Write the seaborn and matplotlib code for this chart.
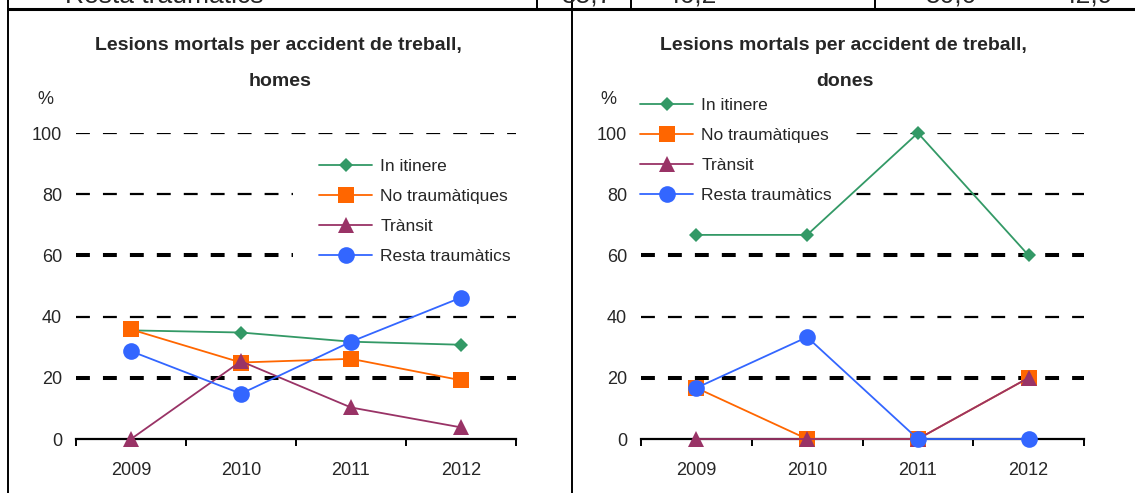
import numpy as np
import pandas as pd
import matplotlib
matplotlib.use('Agg')
import matplotlib.pyplot as plt
import seaborn as sns
from matplotlib import font_manager
from matplotlib.patches import Rectangle

# --- Dades ---
years = [2009, 2010, 2011, 2012]
series = ['In itinere', 'No traumàtiques', 'Trànsit', 'Resta traumàtics']

homes_itinere = [35.5, 34.8, 31.8, 30.8]
homes_no_traum = [35.8, 25.0, 26.2, 19.2]
homes_transit = [0.0, 25.4, 10.3, 3.8]
homes_resta = [28.7, 14.8, 31.8, 46.2]

dones_itinere = [66.7, 66.7, 100.0, 60.0]
dones_no_traum = [16.7, 0.0, 0.0, 20.0]
dones_transit = [0.0, 0.0, 0.0, 20.0]
dones_resta = [16.7, 33.3, 0.0, 0.0]

y_ticks = [0, 20, 40, 60, 80, 100]
table_label = 'Resta traumàtics'
table_values = ['55,7', '46,2', '50,0', '42,9']

COLORS = {'In itinere': '#339966', 'No traumàtiques': '#FF6600',
          'Trànsit': '#993366', 'Resta traumàtics': '#3366FF'}
MARKERS = {'In itinere': 'D', 'No traumàtiques': 's',
           'Trànsit': '^', 'Resta traumàtics': 'o'}
MSIZE = {'In itinere': 7, 'No traumàtiques': 11.5, 'Trànsit': 12, 'Resta traumàtics': 12}

sns.set_style('white')
names = {f.name for f in font_manager.fontManager.ttflist}
NARROW = 'Liberation Sans Narrow' in names
FONT = 'Liberation Sans Narrow' if NARROW else 'Liberation Sans'
plt.rcParams['font.family'] = [FONT, 'DejaVu Sans']
plt.rcParams['lines.scale_dashes'] = False
if NARROW:
    TICK_FS, LEG_FS, TITLE_FS = 14.5, 14.5, 17
else:
    TICK_FS, LEG_FS, TITLE_FS = 13, 12.5, 14

W, H = 1135, 493
fig = plt.figure(figsize=(W / 100, H / 100), dpi=100)

# capa de fons: taula retallada i vores
ov = fig.add_axes([0, 0, 1, 1], zorder=-1)
ov.set_xlim(0, W)
ov.set_ylim(H, 0)
ov.axis('off')
ov.plot([7, W], [9, 9], color='black', lw=2.2, solid_capstyle='butt')
for x in [537, 631, 875]:
    ov.plot([x, x], [0, 9], color='black', lw=1.4)
for x in [8, 572]:
    ov.plot([x, x], [0, H], color='black', lw=1.4)
ov.text(65, 3, table_label, fontsize=19, family='Liberation Sans', va='baseline')
for x, t in zip([613, 717, 977, 1113], table_values):
    ov.text(x, 3, t, fontsize=19, family='Liberation Sans', va='baseline', ha='right')


def draw_panel(ax, data, title, sub, title_x, pct_x, leg_xy, leg_box):
    for name, vals in zip(series, data):
        sns.lineplot(x=years, y=vals, ax=ax, color=COLORS[name], marker=MARKERS[name],
                     markersize=MSIZE[name], markeredgecolor=COLORS[name],
                     markeredgewidth=0, linewidth=1.3, label=name, clip_on=False, zorder=6)
    for v in y_ticks[1:]:
        lw = 2.9 if v in (20, 60) else 1.6
        ax.axhline(v, color='black', lw=lw, ls=(0, (10, 9.4)), zorder=1)
    ax.set_xlim(2008.5, 2012.5)
    ax.set_ylim(0, 100)
    ax.set_yticks(y_ticks)
    ax.set_xticks(years)
    ax.set_xticklabels([str(y) for y in years])
    ax.set_xticks([2008.5, 2009.5, 2010.5, 2011.5, 2012.5], minor=True)
    ax.tick_params(axis='y', length=0, pad=10, labelsize=TICK_FS)
    ax.tick_params(axis='x', which='major', length=0, pad=16.5, labelsize=TICK_FS)
    ax.tick_params(axis='x', which='minor', length=5, width=1.4, direction='out',
                   color='black', bottom=True)
    for s in ['left', 'right', 'top']:
        ax.spines[s].set_visible(False)
    ax.spines['bottom'].set_color('black')
    ax.spines['bottom'].set_linewidth(1.6)
    ax.set_xlabel('')
    ax.set_ylabel('')
    ax.set_facecolor('none')

    # fons blanc de la llegenda (tapa les línies de quadrícula)
    x0, y0, x1, y1 = leg_box
    ax.add_patch(Rectangle((x0 / W, 1 - y1 / H), (x1 - x0) / W, (y1 - y0) / H,
                           transform=fig.transFigure, facecolor='white',
                           edgecolor='none', zorder=4, clip_on=False))
    leg = ax.legend(loc='upper left', bbox_to_anchor=(leg_xy[0] / W, 1 - leg_xy[1] / H),
                    bbox_transform=fig.transFigure, frameon=False,
                    borderpad=0.2, borderaxespad=0,
                    labelspacing=0.86, handlelength=3.05, handletextpad=0.46,
                    fontsize=LEG_FS)
    leg.set_zorder(5)
    ov.text(title_x, 46, title, ha='center', va='center', fontsize=TITLE_FS,
            weight='bold', family=[FONT, 'DejaVu Sans'])
    ov.text(title_x + 2, 82, sub, ha='center', va='center', fontsize=TITLE_FS,
            weight='bold', family=[FONT, 'DejaVu Sans'])
    ov.text(pct_x, 99, '%', ha='left', va='center', fontsize=TICK_FS,
            family=[FONT, 'DejaVu Sans'])


ax1 = fig.add_axes([76 / W, (H - 439) / H, 440 / W, 306 / H])
ax2 = fig.add_axes([641 / W, (H - 439) / H, 443 / W, 306 / H])

draw_panel(ax1, [homes_itinere, homes_no_traum, homes_transit, homes_resta],
           'Lesions mortals per accident de treball,', 'homes', 278, 37, (316, 155),
           (293, 146, 522, 270))
draw_panel(ax2, [dones_itinere, dones_no_traum, dones_transit, dones_resta],
           'Lesions mortals per accident de treball,', 'dones', 843, 600, (637, 94),
           (636, 90, 850, 210))

fig.savefig('out.png', dpi=100)
